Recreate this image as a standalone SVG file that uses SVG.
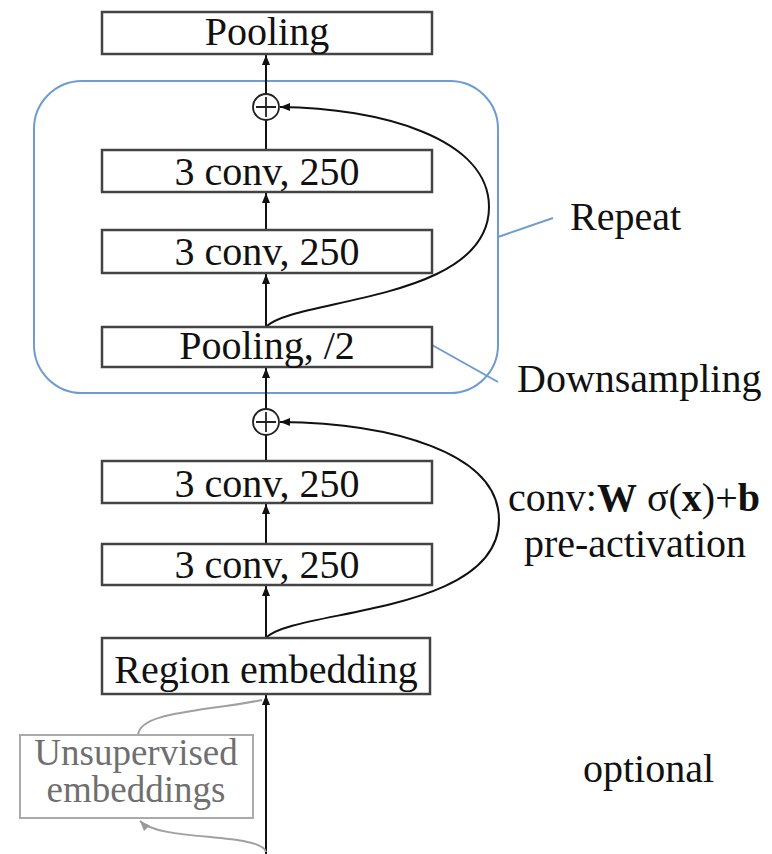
<svg xmlns="http://www.w3.org/2000/svg" width="772" height="854" viewBox="0 0 772 854">
  <defs>
    <marker id="arrow" viewBox="0 0 10 10" refX="10" refY="5" markerWidth="10" markerHeight="10" markerUnits="userSpaceOnUse" orient="auto">
      <path d="M0,1 L10,5 L0,9 Z" fill="#111"/>
    </marker>
    <marker id="arrow-gray" viewBox="0 0 10 10" refX="10" refY="5" markerWidth="10" markerHeight="10" markerUnits="userSpaceOnUse" orient="auto">
      <path d="M0,1 L10,5 L0,9 Z" fill="#999"/>
    </marker>
    <style>
      .box { fill: #fff; stroke: #444; stroke-width: 2.5; }
      .lbl { font-size: 40px; fill: #111; }
      .mid { text-anchor: middle; }
      .edge { fill: none; stroke: #111; stroke-width: 2; }
      .blue { fill: none; stroke: #6e9bd2; stroke-width: 2; }
      .gray { fill: none; stroke: #a0a0a0; stroke-width: 2; }
      .plus { fill: #fff; stroke: #222; stroke-width: 1.8; }
    </style>
  </defs>

  <!-- repeat region outline and callouts -->
  <g id="repeat-group">
    <rect class="blue" x="34" y="81" width="464" height="312" rx="48" ry="48"/>
    <line class="blue" x1="498" y1="237" x2="553" y2="218"/>
    <line class="blue" x1="432" y1="345" x2="498" y2="382"/>
  </g>

  <!-- connectors -->
  <g id="connectors">
    <line class="edge" x1="266" y1="94" x2="266" y2="55" marker-end="url(#arrow)"/>
    <line class="edge" x1="266" y1="150" x2="266" y2="120"/>
    <line class="edge" x1="266" y1="230" x2="266" y2="193" marker-end="url(#arrow)"/>
    <line class="edge" x1="266" y1="327" x2="266" y2="274" marker-end="url(#arrow)"/>
    <line class="edge" x1="266" y1="409" x2="266" y2="368" marker-end="url(#arrow)"/>
    <line class="edge" x1="266" y1="461" x2="266" y2="435"/>
    <line class="edge" x1="266" y1="544" x2="266" y2="504" marker-end="url(#arrow)"/>
    <line class="edge" x1="266" y1="638" x2="266" y2="586" marker-end="url(#arrow)"/>
    <line class="edge" x1="266" y1="854" x2="266" y2="695" marker-end="url(#arrow)"/>
    <path class="edge" d="M266,327 C292,298 489,302 489,207 C489,138 380,108 280,107" marker-end="url(#arrow)"/>
    <path class="edge" d="M266,638 C292,609 499,615 499,520 C499,452 390,423 280,422" marker-end="url(#arrow)"/>
    <path class="gray" d="M138,735 C140,712 200,712 262,700"/>
    <path class="gray" d="M266,852 C260,832 160,842 140,821" marker-end="url(#arrow-gray)"/>
  </g>

  <g font-family="Liberation Serif, DejaVu Serif, Times New Roman, serif">
  <g id="pooling">
    <rect class="box" x="102" y="12" width="330" height="42"/>
    <text class="lbl mid" x="267" y="45">Pooling</text>
  </g>
  <g id="add-1">
    <circle class="plus" cx="266" cy="107" r="13"/>
    <path d="M256,107 H276 M266,97 V117" stroke="#222" stroke-width="1.8"/>
  </g>
  <g id="conv-1">
    <rect class="box" x="102" y="150" width="330" height="42"/>
    <text class="lbl mid" x="267" y="185">3 conv, 250</text>
  </g>
  <g id="conv-2">
    <rect class="box" x="102" y="230" width="330" height="43"/>
    <text class="lbl mid" x="267" y="265">3 conv, 250</text>
  </g>
  <g id="pooling-half">
    <rect class="box" x="102" y="327" width="330" height="40"/>
    <text class="lbl mid" x="267" y="359">Pooling, /2</text>
  </g>
  <g id="add-2">
    <circle class="plus" cx="266" cy="422" r="13"/>
    <path d="M256,422 H276 M266,412 V432" stroke="#222" stroke-width="1.8"/>
  </g>
  <g id="conv-3">
    <rect class="box" x="102" y="461" width="330" height="42"/>
    <text class="lbl mid" x="267" y="497">3 conv, 250</text>
  </g>
  <g id="conv-4">
    <rect class="box" x="102" y="544" width="330" height="41"/>
    <text class="lbl mid" x="267" y="578">3 conv, 250</text>
  </g>
  <g id="region-embedding">
    <rect class="box" x="102" y="638" width="328" height="56"/>
    <text class="lbl mid" x="266" y="683">Region embedding</text>
  </g>
  <g id="unsupervised">
    <rect x="20" y="735" width="233" height="83" fill="#fff" stroke="#aaa" stroke-width="2"/>
    <text class="lbl mid" x="136" y="765" style="fill:#6f6f6f;font-size:37px">Unsupervised</text>
    <text class="lbl mid" x="136" y="802" style="fill:#6f6f6f;font-size:37px">embeddings</text>
  </g>

  <!-- side labels -->
  <g id="labels">
    <text class="lbl" x="570" y="230">Repeat</text>
    <text class="lbl" x="517" y="392">Downsampling</text>
    <text class="lbl mid" x="634" y="511">conv:<tspan font-weight="bold">W</tspan> σ(<tspan font-weight="bold">x</tspan>)+<tspan font-weight="bold">b</tspan></text>
    <text class="lbl mid" x="635" y="557">pre-activation</text>
    <text class="lbl" x="583" y="782">optional</text>
  </g>
  </g>
</svg>
